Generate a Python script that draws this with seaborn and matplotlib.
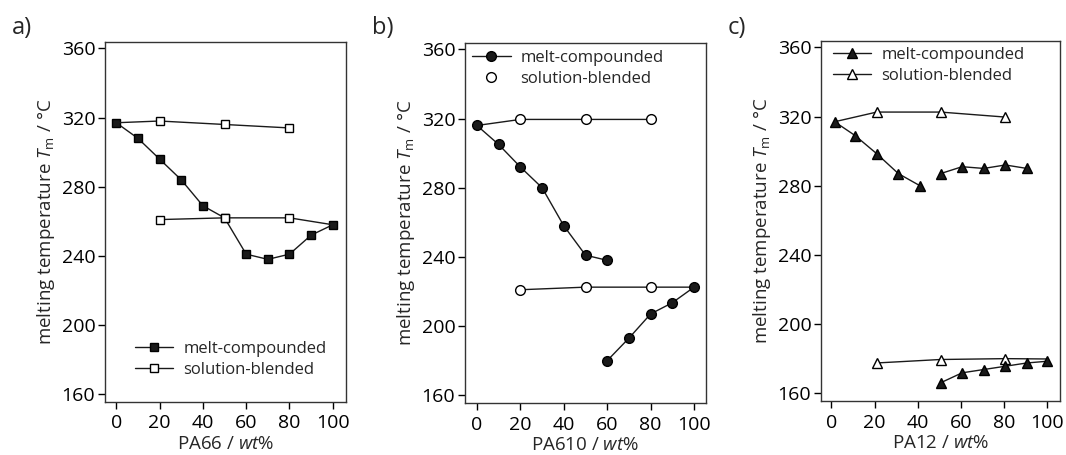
import matplotlib
matplotlib.use("Agg")
import matplotlib.pyplot as plt
import seaborn as sns
from matplotlib.lines import Line2D

# ---------------- data ----------------
# panel a) PA66
a_melt_x = [0, 10, 20, 30, 40, 50, 60, 70, 80, 90, 100]
a_melt_y = [317, 308, 296, 284, 269, 262, 241, 238, 241, 252, 258]
a_sol_hi_x = [0, 20, 50, 80]
a_sol_hi_y = [317, 318, 316, 314]
a_sol_lo_x = [20, 50, 80, 100]
a_sol_lo_y = [261, 262, 262, 258]

# panel b) PA610
b_melt_hi_x = [0, 10, 20, 30, 40, 50, 60]
b_melt_hi_y = [316, 305, 292, 280, 258, 241, 238]
b_melt_lo_x = [60, 70, 80, 90, 100]
b_melt_lo_y = [180, 193, 207, 213.5, 222.5]
b_sol_hi_x = [0, 20, 50, 80]
b_sol_hi_y = [316, 319.5, 319.5, 319.5]
b_sol_lo_x = [20, 50, 80, 100]
b_sol_lo_y = [221, 222.5, 222.5, 222.5]

# panel c) PA12
c_melt_hi_x = [1.5, 11, 21, 31, 41]
c_melt_hi_y = [317, 309, 298.5, 287, 280]
c_melt_mid_x = [50.5, 60.5, 70.5, 80.5, 90.5]
c_melt_mid_y = [287, 291, 290, 292, 290]
c_melt_lo_x = [50.5, 60.5, 70.5, 80.5, 90.5, 100]
c_melt_lo_y = [166, 171.8, 173.7, 175.6, 177.5, 178.5]
c_sol_hi_x = [1.5, 21, 50.5, 80.5]
c_sol_hi_y = [317, 322.6, 322.6, 319.7]
c_sol_lo_x = [21, 50.5, 80.5, 100]
c_sol_lo_y = [177.5, 179.5, 180, 179.8]

x_labels = ["PA66", "PA610", "PA12"]
panel_tags = ["a)", "b)", "c)"]
legend_labels = ["melt-compounded", "solution-blended"]
x_ticks = [0, 20, 40, 60, 80, 100]
y_ticks = [160, 200, 240, 280, 320, 360]

# ---------------- style ----------------
sns.set_style("ticks")
plt.rcParams["font.family"] = ["Open Sans", "DejaVu Sans"]
plt.rcParams["mathtext.fontset"] = "custom"
plt.rcParams["mathtext.rm"] = "Open Sans"
plt.rcParams["mathtext.it"] = "Open Sans:italic"
LC = "#1a1a1a"
TICK_FS = 14
LABEL_FS = 13.5
LEG_FS = 12

fig = plt.figure(figsize=(10.66, 4.55), dpi=100)
W, H = 1066, 455
boxes = [(105, 346, 42, 402), (465, 706, 43, 403), (821, 1060, 41, 401)]
xlims = [(-5.2, 106.1), (-5.5, 105.5), (-4.8, 105.8)]
axes = []
for (l, r, t, b) in boxes:
    axes.append(fig.add_axes([l / W, 1 - b / H, (r - l) / W, (b - t) / H]))


def draw(ax, xs, ys, marker, filled, markevery=None, ms=6.5):
    kws = dict(color=LC, lw=1.0, marker=marker, markersize=ms,
               markerfacecolor=LC if filled else "white",
               markeredgecolor="black", markeredgewidth=1.0,
               sort=False, estimator=None, legend=False, ax=ax)
    if markevery is not None:
        kws["markevery"] = markevery
    sns.lineplot(x=xs, y=ys, **kws)


# panel a
ax = axes[0]
draw(ax, a_melt_x, a_melt_y, "s", True, ms=6)
draw(ax, a_sol_hi_x, a_sol_hi_y, "s", False, markevery=[1, 2, 3], ms=6)
draw(ax, a_sol_lo_x, a_sol_lo_y, "s", False, markevery=[0, 1, 2], ms=6)

# panel b
ax = axes[1]
draw(ax, b_sol_hi_x, b_sol_hi_y, "o", False, markevery=[1, 2, 3], ms=7)
draw(ax, b_sol_lo_x, b_sol_lo_y, "o", False, markevery=[0, 1, 2], ms=7)
draw(ax, b_melt_hi_x, b_melt_hi_y, "o", True, ms=7)
draw(ax, b_melt_lo_x, b_melt_lo_y, "o", True, ms=7)

# panel c
ax = axes[2]
draw(ax, c_sol_hi_x, c_sol_hi_y, "^", False, markevery=[1, 2, 3], ms=7.5)
draw(ax, c_sol_lo_x, c_sol_lo_y, "^", False, markevery=[0, 1, 2], ms=7.5)
draw(ax, c_melt_hi_x, c_melt_hi_y, "^", True, ms=7.5)
draw(ax, c_melt_mid_x, c_melt_mid_y, "^", True, ms=7.5)
draw(ax, c_melt_lo_x, c_melt_lo_y, "^", True, ms=7.5)

markers = [("s", 6), ("o", 7), ("^", 7.5)]
leg_pos = [("center left", (0.124, 0.119)), ("center left", (0.03, 0.93)),
           ("center left", (0.05, 0.932))]

for i, ax in enumerate(axes):
    ax.set_xlim(*xlims[i])
    ax.set_ylim(155.5, 363.7)
    ax.set_xticks(x_ticks)
    ax.set_yticks(y_ticks)
    ax.tick_params(axis="both", direction="out", length=5, width=1,
                   labelsize=TICK_FS, colors="black")
    ax.tick_params(axis="x", pad=4)
    ax.tick_params(axis="y", pad=2)
    for s in ax.spines.values():
        s.set_visible(True)
        s.set_linewidth(1.0)
        s.set_color("#333333")
    ax.set_xlabel(x_labels[i] + r" / $\mathit{wt}$%", fontsize=LABEL_FS,
                  labelpad=2)
    ax.set_ylabel(r"melting temperature $\mathit{T}_{\mathrm{m}}$ / °C",
                  fontsize=LABEL_FS, labelpad=3)
    m, ms = markers[i]
    h1 = Line2D([], [], color=LC, lw=1, marker=m, markersize=ms,
                markerfacecolor=LC, markeredgecolor="black")
    if i == 1:
        h2 = Line2D([], [], color=LC, lw=0, marker=m, markersize=ms,
                    markerfacecolor="white", markeredgecolor="black")
    else:
        h2 = Line2D([], [], color=LC, lw=1, marker=m, markersize=ms,
                    markerfacecolor="white", markeredgecolor="black")
    loc, anchor = leg_pos[i]
    ax.legend([h1, h2], legend_labels, loc=loc, bbox_to_anchor=anchor,
              frameon=False, fontsize=LEG_FS, borderpad=0, borderaxespad=0,
              handlelength=2.3, handletextpad=0.6, labelspacing=0.3,
              numpoints=1)

tag_x = [12, 372, 728]
for i, t in enumerate(panel_tags):
    fig.text(tag_x[i] / W, 1 - 28 / H, t, fontsize=17, ha="left", va="center")

fig.savefig("out.png", dpi=100)
